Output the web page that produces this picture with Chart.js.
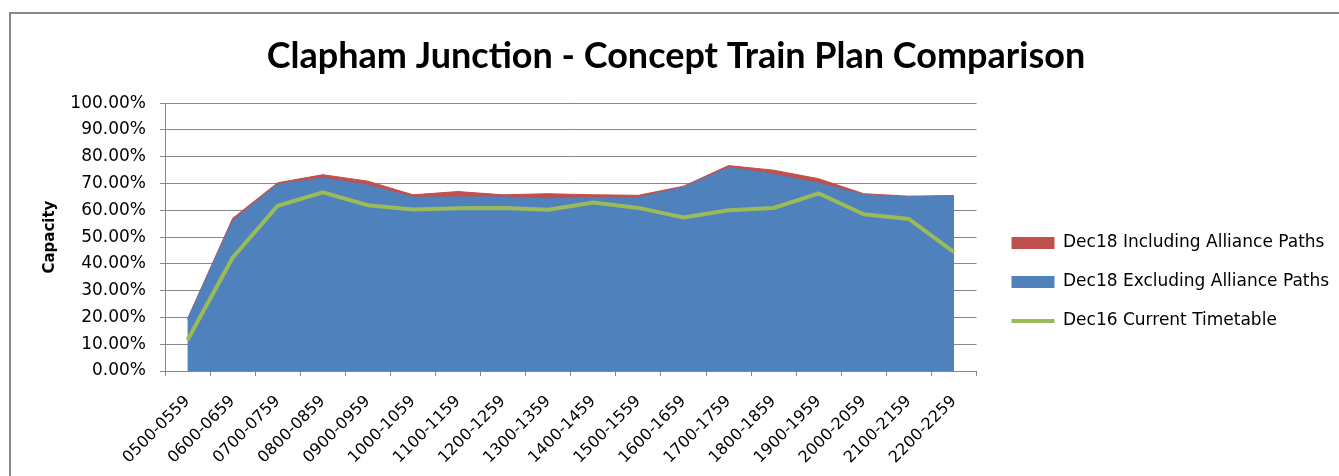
<!DOCTYPE html>
<html>
<head>
<meta charset="utf-8">
<title>Clapham Junction - Concept Train Plan Comparison</title>
<script src="https://cdn.jsdelivr.net/npm/chart.js@4.4.1/dist/chart.umd.min.js"></script>
<style>
  html, body { margin: 0; padding: 0; background: #fff; overflow: hidden; }
  #wrap { position: relative; width: 1339px; height: 476px; }
  #frame {
    position: absolute; left: 9px; top: 12px; width: 1400px; height: 500px;
    border-left: 2px solid #8a8a8a; border-top: 2px solid #8a8a8a;
    pointer-events: none;
  }
</style>
</head>
<body>
<div id="wrap">
  <canvas id="chart" width="1339" height="476"></canvas>
  <div id="frame"></div>
</div>
<script>
// time bands (x axis)
const hours = ['0500-0559', '0600-0659', '0700-0759', '0800-0859', '0900-0959', '1000-1059',
  '1100-1159', '1200-1259', '1300-1359', '1400-1459', '1500-1559', '1600-1659',
  '1700-1759', '1800-1859', '1900-1959', '2000-2059', '2100-2159', '2200-2259'];

// capacity in %
const dec18Incl = [19.5, 57.0, 70.3, 73.3, 70.9, 65.8, 67.0, 65.8, 66.2, 65.8, 65.6, 69.0,
  76.7, 75.0, 71.8, 66.2, 65.3, 65.5];
const dec18Excl = [19.3, 56.1, 69.7, 72.1, 69.4, 64.9, 65.0, 65.0, 64.3, 64.8, 64.8, 68.6,
  76.0, 73.5, 70.1, 65.8, 65.0, 65.5];
const dec16Current = [11.6, 42.3, 61.7, 66.7, 61.9, 60.3, 60.8, 60.9, 60.2, 62.9, 60.9, 57.3,
  60.0, 60.9, 66.3, 58.5, 56.8, 44.4];

const yTicks = [0, 10, 20, 30, 40, 50, 60, 70, 80, 90, 100];

const gridGrey = '#878787';

// nudge legend and title to where Excel put them
const placeBoxes = {
  id: 'placeBoxes',
  afterLayout(chart) {
    const l = chart.legend;
    l.left += 13; l.right += 13 + 40; l.width += 40;
    l.top += 44; l.bottom += 44;
    const t = chart.titleBlock;
    t.left += 25; t.right += 25;
  }
};

const ctx = document.getElementById('chart').getContext('2d');

new Chart(ctx, {
  type: 'line',
  data: {
    labels: hours,
    datasets: [
      {
        label: 'Dec18 Including Alliance Paths',
        data: dec18Incl,
        borderColor: '#C0504D',
        backgroundColor: '#C0504D',
        borderWidth: 1,
        fill: 'origin',
        pointRadius: 0,
        pointStyle: 'rect',
        pointBorderWidth: 0,
        tension: 0,
        order: 2
      },
      {
        label: 'Dec18 Excluding Alliance Paths',
        data: dec18Excl,
        borderColor: '#4F81BD',
        backgroundColor: '#4F81BD',
        borderWidth: 1,
        fill: 'origin',
        pointRadius: 0,
        pointStyle: 'rect',
        pointBorderWidth: 0,
        tension: 0,
        order: 1
      },
      {
        label: 'Dec16 Current Timetable',
        data: dec16Current,
        borderColor: '#9BBB59',
        backgroundColor: '#9BBB59',
        borderWidth: 4,
        fill: false,
        pointRadius: 0,
        pointStyle: 'line',
        pointBorderWidth: 4,
        tension: 0,
        order: 0
      }
    ]
  },
  plugins: [placeBoxes],
  options: {
    responsive: false,
    animation: false,
    events: [],
    layout: { padding: { left: 0, right: 37, top: 0, bottom: 0 } },
    plugins: {
      title: {
        display: true,
        text: 'Clapham Junction - Concept Train Plan Comparison',
        color: '#000',
        font: { family: 'Lato', size: 36, weight: 'bold' },
        padding: { top: 35, bottom: 25 }
      },
      legend: {
        position: 'right',
        labels: {
          usePointStyle: true,
          pointStyleWidth: 43,
          boxHeight: 12,
          padding: 22,
          color: '#000',
          font: { family: 'DejaVu Sans', size: 17 },
          sort: (a, b) => a.datasetIndex - b.datasetIndex
        }
      },
      tooltip: { enabled: false }
    },
    scales: {
      x: {
        offset: true,
        grid: { offset: true, drawOnChartArea: false, tickLength: 5, color: gridGrey },
        border: { color: gridGrey },
        ticks: {
          autoSkip: false,
          maxRotation: 45,
          minRotation: 45,
          padding: 16,
          color: '#000',
          font: { family: 'DejaVu Sans', size: 16 }
        },
        afterFit: (scale) => { scale.height = 105; }
      },
      y: {
        min: 0,
        max: 100,
        afterBuildTicks: (scale) => { scale.ticks = yTicks.map(v => ({ value: v })); },
        grid: { color: gridGrey, tickLength: 5 },
        border: { color: gridGrey },
        ticks: {
          color: '#000',
          font: { family: 'DejaVu Sans', size: 17 },
          padding: 14,
          callback: (v) => v.toFixed(2) + '%'
        },
        title: {
          display: true,
          text: 'Capacity',
          color: '#000',
          font: { family: 'DejaVu Sans', size: 15, weight: 'bold' },
          padding: { top: 41, bottom: 0 }
        },
        afterFit: (scale) => { scale.width = 165; }
      }
    }
  }
});
</script>
</body>
</html>
